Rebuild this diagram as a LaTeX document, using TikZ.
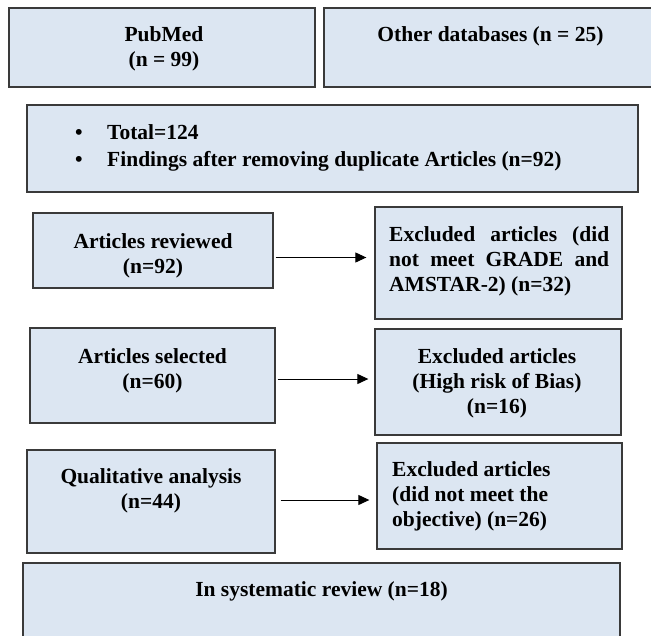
\documentclass[tikz,border=0pt]{standalone}
\usepackage{fontspec}
\setmainfont{Liberation Serif}
\usetikzlibrary{arrows.meta}
\definecolor{boxfill}{HTML}{DCE6F2}
\definecolor{boxline}{HTML}{3A3A3A}
\begin{document}
\begin{tikzpicture}[x=1pt,y=-1pt,
  box/.style={draw=boxline, fill=boxfill, line width=1.3pt, inner sep=0pt},
  txt/.style={font=\bfseries\fontsize{21.5}{25}\selectfont, inner sep=0pt, anchor=base, align=center},
  ltxt/.style={txt, anchor=base west, align=left},
  arr/.style={line width=1pt, draw=black, -{Triangle[length=11pt,width=10pt]}}]
\useasboundingbox (0,0) rectangle (651,635);
\clip (0,0) rectangle (651,635);
\fill[white] (0,0) rectangle (651,635);
% boxes
\node[box, minimum width=306pt, minimum height=79pt]  (pub)  at (162,47.5)  {};
\node[box, minimum width=356pt, minimum height=79pt]  (oth)  at (502,47.5)  {};
\node[box, minimum width=611pt, minimum height=87pt]  (tot)  at (332.5,148.5) {};
\node[box, minimum width=240pt, minimum height=75pt]  (rev)  at (153,250.5) {};
\node[box, minimum width=247pt, minimum height=112pt] (ex1)  at (498.5,263) {};
\node[box, minimum width=245pt, minimum height=95pt]  (sel)  at (152.5,375.5) {};
\node[box, minimum width=246pt, minimum height=106pt] (ex2)  at (498,382) {};
\node[box, minimum width=248pt, minimum height=103pt] (qual) at (151,501.5) {};
\node[box, minimum width=245pt, minimum height=106pt] (ex3)  at (499.5,496) {};
\node[box, minimum width=597pt, minimum height=97pt]  (sys)  at (321.5,611.5) {};
% texts (multi-line nodes: anchor at the baseline of the last line)
\node[txt] (tpub) at (164,66.7) {PubMed\\(n = 99)};
\node[txt] (toth) at (490.5,41.7) {Other databases (n = 25)};
\node[ltxt] (ttot) at (75,166.7) {\makebox[32pt][l]{•}Total=124\\[2pt]\makebox[32pt][l]{•}Findings after removing duplicate Articles (n=92)};
\node[txt] (trev) at (153,273) {Articles reviewed\\(n=92)};
\node[ltxt] (tex1) at (389,291.5) {\makebox[220pt][s]{Excluded articles (did}\\\makebox[220pt][s]{not meet GRADE and}\\AMSTAR-2) (n=32)};
\node[txt] (tsel) at (152.5,388) {Articles selected\\(n=60)};
\node[txt] (tex2) at (497,413) {Excluded articles\\(High risk of Bias)\\(n=16)};
\node[txt] (tqual) at (151,508.5) {Qualitative analysis\\(n=44)};
\node[ltxt] (tex3) at (392,526.7) {Excluded articles\\(did not meet the\\objective) (n=26)};
\node[txt] (tsys) at (321.5,596.7) {In systematic review (n=18)};
% arrows
\draw[arr] ([xshift=2pt,yshift=-7pt]rev.east) coordinate (a1) -- ([xshift=-8pt]ex1.west |- a1);
\draw[arr] ([xshift=2pt,yshift=-3.5pt]sel.east) coordinate (a2) -- ([xshift=-6pt]ex2.west |- a2);
\draw[arr] ([xshift=5pt,yshift=1.5pt]qual.east) coordinate (a3) -- ([xshift=-7pt]ex3.west |- a3);
\end{tikzpicture}
\end{document}
